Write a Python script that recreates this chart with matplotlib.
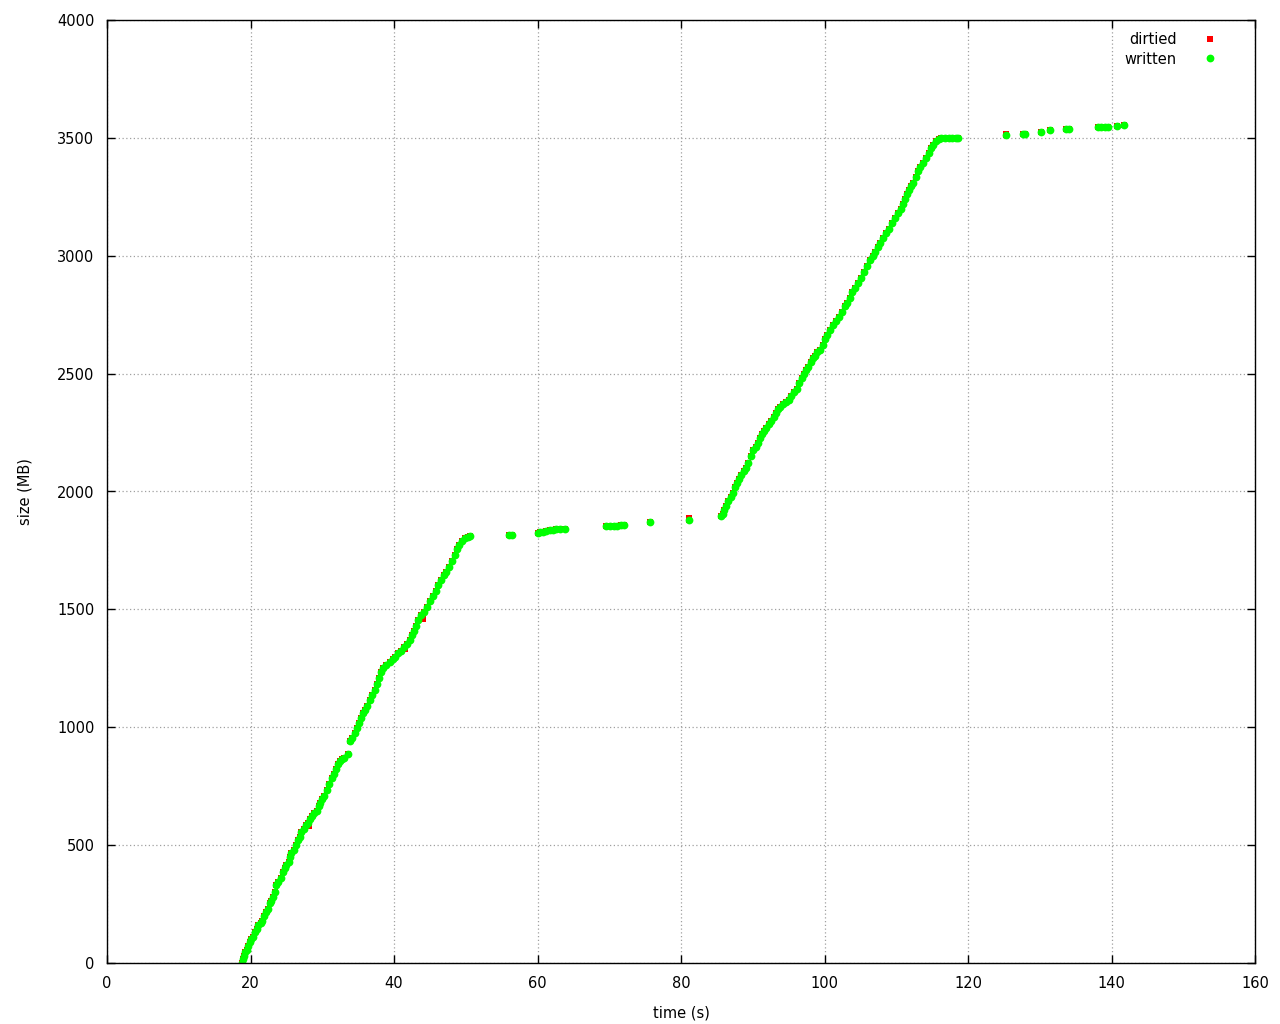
import matplotlib
matplotlib.use("Agg")
from matplotlib import pyplot as plt

# written points (time in s, size in MB)
written_time = [
    18.8, 18.9, 19.1, 19.3, 19.5, 19.7, 19.9, 20.1, 20.4, 20.6, 20.9, 21.1, 21.4, 21.6, 21.9,
    22.1, 22.4, 22.7, 22.9, 23.2, 23.4, 23.6, 23.9, 24.2, 24.5, 24.8, 25.0, 25.3, 25.5, 25.7,
    26.0, 26.3, 26.6, 26.9, 27.1, 27.4, 27.7, 28.0, 28.3, 28.6, 28.9, 29.2, 29.5, 29.7, 29.9,
    30.2, 30.6, 30.9, 31.3, 31.6, 31.9, 32.2, 32.5, 32.8, 33.0, 33.6, 33.9, 34.2, 34.5, 34.8,
    35.1, 35.4, 35.7, 36.0, 36.3, 36.7, 37.0, 37.3, 37.6, 37.9, 38.2, 38.5, 38.9, 39.4, 39.8,
    40.2, 40.6, 41.0, 41.4, 41.8, 42.2, 42.5, 42.8, 43.1, 43.4, 43.8, 44.2, 44.6, 45.0, 45.4,
    45.8, 46.2, 46.5, 46.9, 47.3, 47.7, 48.1, 48.5, 48.8, 49.1, 49.5, 49.9, 50.3, 50.6,
    56.0, 56.5, 60.0, 60.4, 60.8, 61.2, 61.7, 62.1, 62.6, 63.2, 63.8,
    69.6, 70.1, 70.6, 71.1, 71.6, 72.1, 75.7, 81.1,
    85.6, 85.8, 86.0, 86.3, 86.6, 86.9, 87.2, 87.5, 87.8, 88.1, 88.4, 88.8, 89.1, 89.4, 89.8,
    90.1, 90.4, 90.7, 91.0, 91.3, 91.6, 91.9, 92.2, 92.6, 92.9, 93.2, 93.5, 93.8, 94.2, 94.6,
    95.0, 95.4, 95.8, 96.2, 96.5, 96.8, 97.1, 97.4, 97.7, 98.1, 98.4, 98.7, 99.0, 99.4, 99.8,
    100.1, 100.4, 100.8, 101.2, 101.6, 102.0, 102.4, 102.8, 103.1, 103.5, 103.9, 104.3, 104.7,
    105.1, 105.5, 105.9, 106.3, 106.7, 107.0, 107.4, 107.8, 108.2, 108.6, 109.0, 109.4, 109.8,
    110.2, 110.6, 110.9, 111.2, 111.5, 111.8, 112.1, 112.4, 112.7, 113.0, 113.3, 113.7, 114.1,
    114.5, 114.8, 115.1, 115.5, 115.9, 116.3, 116.8, 117.3, 117.8, 118.3, 118.6,
    125.3, 127.6, 127.9, 130.2, 131.4, 133.7, 134.1, 138.1, 138.6, 139.1, 139.5, 140.7, 141.7,
]
written_size = [
    0, 15, 30, 45, 55, 70, 90, 100, 110, 130, 145, 160, 170, 180, 200,
    215, 230, 255, 265, 280, 300, 330, 345, 360, 385, 405, 415, 430, 450, 465,
    480, 500, 520, 535, 555, 570, 585, 595, 610, 625, 635, 645, 665, 680, 695,
    710, 735, 760, 785, 800, 825, 845, 858, 865, 870, 887, 940, 955, 975, 995,
    1020, 1040, 1060, 1075, 1090, 1115, 1135, 1160, 1185, 1210, 1235, 1250, 1262, 1275, 1290,
    1300, 1315, 1325, 1340, 1355, 1370, 1390, 1410, 1430, 1455, 1475, 1490, 1510, 1535, 1555,
    1580, 1605, 1625, 1645, 1660, 1680, 1705, 1730, 1755, 1775, 1790, 1803, 1808, 1811,
    1815, 1815, 1826, 1828, 1830, 1833, 1836, 1838, 1840, 1841, 1842,
    1852, 1852, 1853, 1854, 1857, 1858, 1870, 1880,
    1895, 1905, 1920, 1940, 1960, 1975, 1995, 2020, 2038, 2055, 2068, 2085, 2100, 2120, 2150,
    2175, 2190, 2205, 2225, 2245, 2258, 2270, 2285, 2300, 2318, 2335, 2350, 2360, 2370, 2380,
    2390, 2405, 2420, 2435, 2460, 2480, 2500, 2515, 2530, 2550, 2565, 2575, 2590, 2600, 2620,
    2645, 2665, 2685, 2705, 2722, 2740, 2760, 2785, 2800, 2822, 2845, 2865, 2885,
    2905, 2930, 2955, 2980, 3000, 3015, 3035, 3055, 3075, 3095, 3115, 3138, 3160,
    3180, 3200, 3220, 3240, 3260, 3280, 3295, 3310, 3335, 3360, 3375, 3395, 3415,
    3435, 3455, 3468, 3485, 3495, 3498, 3500, 3500, 3500, 3500, 3500,
    3512, 3515, 3516, 3525, 3533, 3538, 3538, 3545, 3545, 3546, 3546, 3550, 3555,
]

# dirtied points that stand apart from the written ones
dirtied_extra_time = [28.2, 41.5, 44.0, 81.1, 125.3]
dirtied_extra_size = [580, 1330, 1460, 1886, 3518]

dirtied_time = written_time + dirtied_extra_time
dirtied_size = written_size + dirtied_extra_size

fig = plt.figure(figsize=(12.8, 10.24), dpi=100)
ax = fig.add_axes([107 / 1280, 61 / 1024, 1148 / 1280, 943 / 1024])

ax.plot(dirtied_time, dirtied_size, linestyle='none', marker='s', markersize=5.0,
        markeredgewidth=0, color='#ff0000', label='dirtied', snap=False)
ax.plot(written_time, written_size, linestyle='none', marker='o', markersize=5.6,
        markeredgewidth=0, color='#00ff00', label='written', snap=False)

ax.set_xlim(0, 160)
ax.set_ylim(0, 4000)
ax.set_xticks(range(0, 161, 20))
ax.set_yticks(range(0, 4001, 500))
ax.grid(True, color='#a0a0a0', linestyle=(0, (1, 2)), linewidth=0.9)
ax.tick_params(direction='in', length=6, width=1, top=True, right=True,
               labelsize=10.5, pad=9, colors='black')
for s in ax.spines.values():
    s.set_linewidth(1)
    s.set_color('black')

ax.set_xlabel('time (s)', fontsize=10.5, labelpad=11)
ax.set_ylabel('size (MB)', fontsize=10.5, labelpad=18)

ax.legend(loc='upper right', frameon=False, markerfirst=False, fontsize=10.5,
          handletextpad=1.3, borderaxespad=0.5, labelspacing=0.3,
          bbox_to_anchor=(0.985, 1.001), markerscale=1.0)

fig.savefig('out.png', dpi=100)
